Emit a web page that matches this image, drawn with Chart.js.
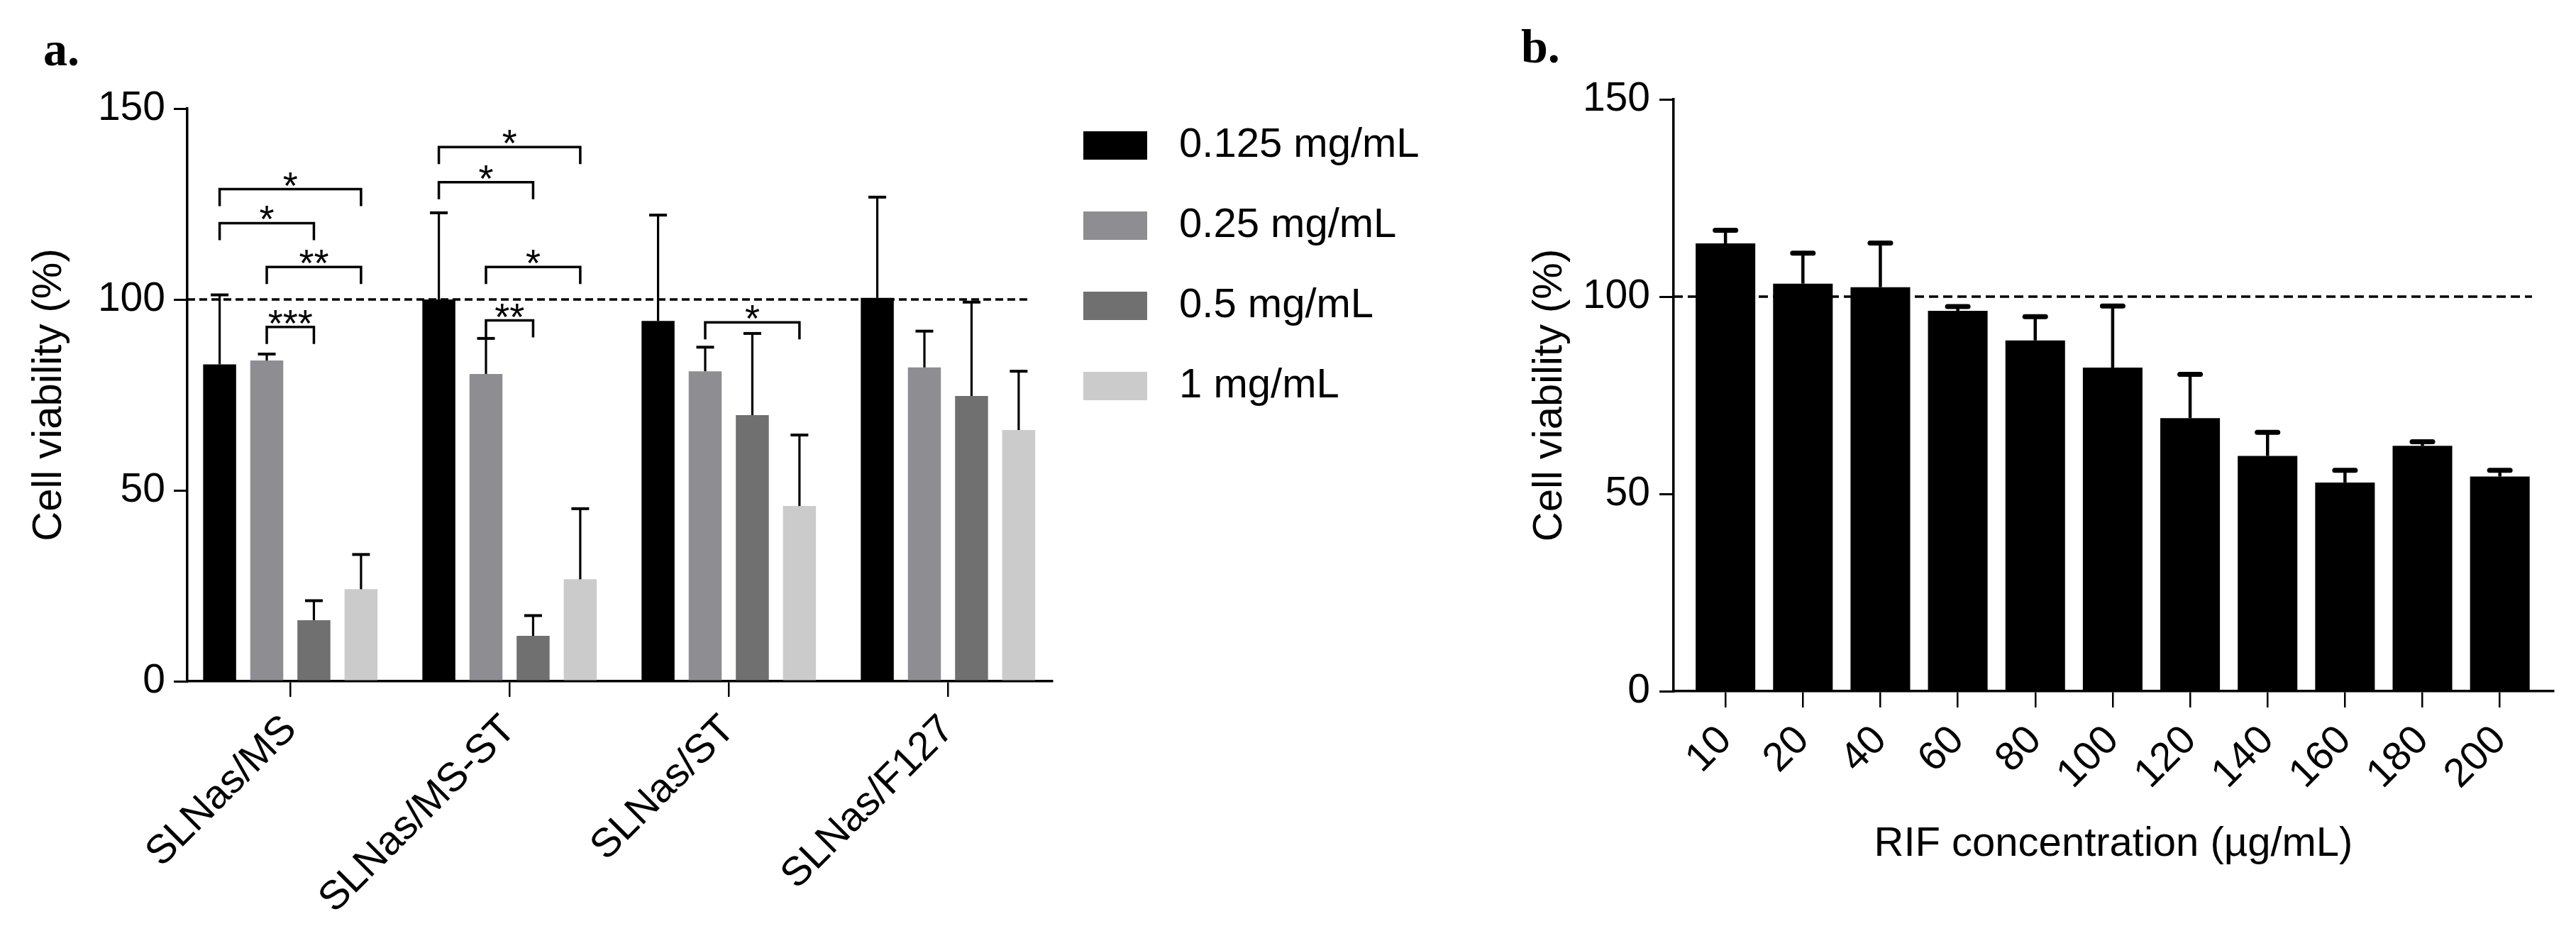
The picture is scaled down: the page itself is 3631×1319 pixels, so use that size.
<!DOCTYPE html>
<html>
<head>
<meta charset="utf-8">
<script src="https://cdn.jsdelivr.net/npm/chart.js@4.4.1/dist/chart.umd.min.js"></script>
<style>
  html, body { margin: 0; padding: 0; background: #fff; }
  #wrap { position: relative; width: 3631px; height: 1319px; overflow: hidden; background: #fff; }
  canvas { position: absolute; top: 0; }
  #chartA { left: 0; }
  #chartB { left: 2100px; }
  .panel { position: absolute; font: bold 68px "Liberation Serif", "DejaVu Serif", serif; line-height: 68px; color: #000; }
</style>
</head>
<body>
<div id="wrap">
  <canvas id="chartA" width="2100" height="1319"></canvas>
  <canvas id="chartB" width="1531" height="1319"></canvas>
  <div class="panel" style="left:61px;top:35px">a.</div>
  <div class="panel" style="left:2144px;top:31px">b.</div>
</div>
<script>
const FONT = '"Liberation Sans", Arial, sans-serif';

// panel a: viability per formulation and dose
const formulations = ['SLNas/MS', 'SLNas/MS-ST', 'SLNas/ST', 'SLNas/F127'];
const doseLabels = ['0.125 mg/mL', '0.25 mg/mL', '0.5 mg/mL', '1 mg/mL'];
const via0125 = [83.0, 100.0, 94.4, 100.4];
const via025 = [84.0, 80.5, 81.2, 82.2];
const via05 = [16.0, 11.9, 69.7, 74.7];
const via1 = [24.1, 26.7, 45.9, 65.8];
const sd0125 = [18.2, 22.7, 27.7, 26.4];
const sd025 = [1.7, 9.3, 6.3, 9.5];
const sd05 = [5.1, 5.3, 21.4, 24.6];
const sd1 = [9.1, 18.5, 18.6, 15.4];

// significance brackets (group index, from dataset, to dataset, level, label)
const bracketGroup = [0, 0, 0, 0, 1, 1, 1, 1, 2];
const bracketFrom = [0, 0, 1, 1, 0, 0, 1, 1, 1];
const bracketTo = [3, 2, 3, 2, 3, 2, 3, 2, 3];
const bracketLevel = [128.9, 120.0, 108.5, 92.8, 139.9, 130.7, 108.5, 94.5, 94.0];
const bracketStars = ['*', '*', '**', '***', '*', '*', '*', '**', '*'];

// panel b: RIF concentrations
const rifConc = ['10', '20', '40', '60', '80', '100', '120', '140', '160', '180', '200'];
const rifVia = [113.5, 103.3, 102.4, 96.4, 88.9, 82.0, 69.2, 59.6, 52.9, 62.2, 54.4];
const rifSd = [3.3, 7.7, 11.2, 1.1, 6.0, 15.6, 11.1, 6.0, 3.1, 1.0, 1.6];

const viabilityTicks = [0, 50, 100, 150];
const refLine = 100;

Chart.defaults.font.family = FONT;
Chart.defaults.color = '#000';

const toXY = (arr) => arr.map((v, i) => ({ x: i, y: v }));

function errorBars(id, sds, st) {
  return {
    id,
    afterDatasetsDraw(chart) {
      const ctx = chart.ctx;
      const y = chart.scales.y;
      ctx.save();
      ctx.strokeStyle = '#000';
      sds.forEach((arr, di) => {
        const meta = chart.getDatasetMeta(di);
        meta.data.forEach((bar, j) => {
          const top = y.getPixelForValue(chart.data.datasets[di].data[j].y + arr[j]);
          ctx.lineWidth = st.line;
          ctx.lineCap = 'butt';
          ctx.beginPath();
          ctx.moveTo(bar.x, bar.y);
          ctx.lineTo(bar.x, top);
          ctx.stroke();
          ctx.lineWidth = st.capLine;
          ctx.lineCap = st.round ? 'round' : 'butt';
          const half = st.cap / 2 - (st.round ? st.capLine / 2 : 0);
          ctx.beginPath();
          ctx.moveTo(bar.x - half, top);
          ctx.lineTo(bar.x + half, top);
          ctx.stroke();
        });
      });
      ctx.restore();
    }
  };
}

function dashedRef(dash, width, trim) {
  return {
    id: 'refLine',
    beforeDatasetsDraw(chart) {
      const { ctx, chartArea, scales: { y } } = chart;
      const py = y.getPixelForValue(refLine);
      ctx.save();
      ctx.setLineDash(dash);
      ctx.lineWidth = width;
      ctx.strokeStyle = '#000';
      ctx.beginPath();
      ctx.moveTo(chartArea.left, py);
      ctx.lineTo(chartArea.right - trim, py);
      ctx.stroke();
      ctx.restore();
    }
  };
}

const brackets = {
  id: 'brackets',
  afterDatasetsDraw(chart) {
    const { ctx, scales: { y } } = chart;
    ctx.save();
    ctx.strokeStyle = '#000';
    ctx.fillStyle = '#000';
    ctx.lineWidth = 3.5;
    ctx.font = '54px ' + FONT;
    ctx.textAlign = 'center';
    ctx.textBaseline = 'alphabetic';
    bracketGroup.forEach((g, k) => {
      const x1 = chart.getDatasetMeta(bracketFrom[k]).data[g].x;
      const x2 = chart.getDatasetMeta(bracketTo[k]).data[g].x;
      const py = y.getPixelForValue(bracketLevel[k]);
      ctx.beginPath();
      ctx.moveTo(x1, py + 24);
      ctx.lineTo(x1, py);
      ctx.lineTo(x2, py);
      ctx.lineTo(x2, py + 24);
      ctx.stroke();
      ctx.fillText(bracketStars[k], (x1 + x2) / 2, py + 13);
    });
    ctx.restore();
  }
};

// move the legend next to the plot, top aligned with the reference
const legendPlace = {
  id: 'legendPlace',
  afterLayout(chart) {
    const lg = chart.legend;
    lg.left = 1472;
    lg.top = 121;
    lg.width = 620;
    lg.right = lg.left + lg.width;
    lg.bottom = lg.top + lg.height;
  }
};

function yAxis(width, tickLen, pad, titlePad) {
  return {
    min: 0,
    max: 150,
    afterBuildTicks: (s) => { s.ticks = viabilityTicks.map((v) => ({ value: v })); },
    afterFit: (s) => { s.width = width; },
    ticks: { font: { size: 57 }, color: '#000', padding: pad },
    grid: { drawOnChartArea: false, tickLength: tickLen, lineWidth: 3, color: '#000' },
    border: { color: '#000', width: 3.5 },
    title: { display: true, text: 'Cell viability (%)', font: { size: 58 }, color: '#000', padding: { top: titlePad } }
  };
}

function xAxis(labels, min, max, height, tickLen) {
  return {
    type: 'linear',
    bounds: 'data',
    offset: false,
    min,
    max,
    afterBuildTicks: (s) => { s.ticks = labels.map((_, i) => ({ value: i })); },
    afterFit: (s) => { s.height = height; },
    ticks: {
      font: { size: 57 },
      color: '#000',
      padding: 13,
      autoSkip: false,
      minRotation: 45,
      maxRotation: 45,
      callback: (v) => labels[v]
    },
    grid: { drawOnChartArea: false, offset: false, tickLength: tickLen, lineWidth: 2.5, color: '#000' },
    border: { color: '#000', width: 3.5 }
  };
}

const doseColors = ['#000000', '#8e8d92', '#707070', '#cbcbcb'];
const doseValues = [via0125, via025, via05, via1];

new Chart(document.getElementById('chartA'), {
  type: 'bar',
  data: {
    datasets: doseValues.map((vals, i) => ({
      label: doseLabels[i],
      data: toXY(vals),
      backgroundColor: doseColors[i],
      borderWidth: 0
    }))
  },
  options: {
    responsive: false,
    animation: false,
    layout: { padding: { left: 0, top: 153, right: 117, bottom: 0 } },
    datasets: { bar: { categoryPercentage: 0.86, barPercentage: 0.7 } },
    plugins: {
      tooltip: { enabled: false },
      legend: {
        position: 'right',
        align: 'start',
        maxWidth: 500,
        labels: {
          boxWidth: 90,
          boxHeight: 40,
          padding: 55,
          color: '#000',
          font: { size: 58 },
          generateLabels: (chart) => Chart.defaults.plugins.legend.labels.generateLabels(chart)
            .map((it) => ({ ...it, text: ' ' + it.text }))
        }
      }
    },
    scales: {
      x: xAxis(formulations, -0.47, 3.475, 359, 22),
      y: yAxis(264, 19, 12, 35)
    }
  },
  plugins: [dashedRef([11, 6], 3.5, 31), errorBars('errA', [sd0125, sd025, sd05, sd1], { line: 3.2, capLine: 4, cap: 25, round: false }), brackets, legendPlace]
});

new Chart(document.getElementById('chartB'), {
  type: 'bar',
  data: {
    datasets: [{
      label: 'Cell viability',
      data: toXY(rifVia),
      backgroundColor: '#000000',
      borderWidth: 0
    }]
  },
  options: {
    responsive: false,
    animation: false,
    layout: { padding: { left: 0, top: 140, right: 32, bottom: 0 } },
    datasets: { bar: { categoryPercentage: 1, barPercentage: 0.77 } },
    plugins: {
      tooltip: { enabled: false },
      legend: { display: false }
    },
    scales: {
      x: {
        ...xAxis(rifConc, -0.67, 10.69, 345, 23),
        title: { display: true, text: 'RIF concentration (µg/mL)', font: { size: 58 }, color: '#000', padding: { bottom: 94 } }
      },
      y: yAxis(259, 20, 13, 50)
    }
  },
  plugins: [dashedRef([13, 7], 3.5, 30), errorBars('errB', [rifSd], { line: 4.5, capLine: 7, cap: 36, round: true })]
});
</script>
</body>
</html>
